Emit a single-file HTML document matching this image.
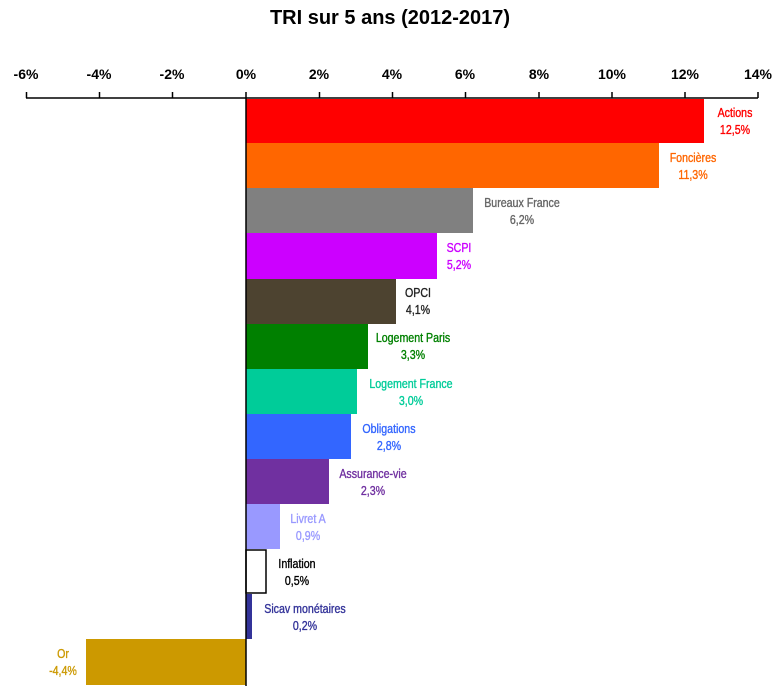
<!DOCTYPE html>
<html><head><meta charset="utf-8"><style>
body{margin:0;background:#fff;}
svg text{font-family:"Liberation Sans",sans-serif;}
</style></head><body>
<svg width="781" height="695" viewBox="0 0 781 695" xmlns="http://www.w3.org/2000/svg">
<text x="390" y="24" text-anchor="middle" font-size="20" font-weight="bold">TRI sur 5 ans (2012-2017)</text>
<g font-size="14" font-weight="bold" text-anchor="middle">
<text x="26" y="79">-6%</text><text x="99" y="79">-4%</text><text x="172" y="79">-2%</text><text x="246" y="79">0%</text><text x="319" y="79">2%</text><text x="392" y="79">4%</text><text x="465" y="79">6%</text><text x="539" y="79">8%</text><text x="612" y="79">10%</text><text x="685" y="79">12%</text><text x="758" y="79">14%</text>
</g>
<g stroke="#000" stroke-width="1.5">
<line x1="26" y1="98" x2="758" y2="98"/>
<line x1="26.5" y1="92" x2="26.5" y2="98"/><line x1="99.5" y1="92" x2="99.5" y2="98"/><line x1="172.5" y1="92" x2="172.5" y2="98"/><line x1="246" y1="92" x2="246" y2="98"/><line x1="319.5" y1="92" x2="319.5" y2="98"/><line x1="392.5" y1="92" x2="392.5" y2="98"/><line x1="465.5" y1="92" x2="465.5" y2="98"/><line x1="539" y1="92" x2="539" y2="98"/><line x1="612" y1="92" x2="612" y2="98"/><line x1="685" y1="92" x2="685" y2="98"/><line x1="758" y1="92" x2="758" y2="98"/>
</g>
<rect x="246" y="99" width="458" height="44" fill="#ff0000"/>
<rect x="246" y="143" width="413" height="45" fill="#ff6600"/>
<rect x="246" y="188" width="227" height="45" fill="#808080"/>
<rect x="246" y="233" width="191" height="46" fill="#cc00ff"/>
<rect x="246" y="279" width="150" height="45" fill="#4d4330"/>
<rect x="246" y="324" width="122" height="45" fill="#008000"/>
<rect x="246" y="369" width="111" height="45" fill="#00cc99"/>
<rect x="246" y="414" width="105" height="45" fill="#3366ff"/>
<rect x="246" y="459" width="83" height="45" fill="#7030a0"/>
<rect x="246" y="504" width="34" height="45" fill="#9999ff"/>
<rect x="246" y="550" width="20" height="43" fill="#fff" stroke="#000" stroke-width="1.5"/>
<rect x="246" y="594" width="6" height="45" fill="#333399"/>
<rect x="86" y="639" width="160" height="46" fill="#cc9900"/>
<line x1="246" y1="98" x2="246" y2="686" stroke="#000" stroke-width="1.5"/>
<g font-size="12.5" text-anchor="middle" transform="scale(0.85 1)" stroke-width="0.35">
<g fill="#ff0000" stroke="#ff0000"><text x="864.7" y="117">Actions</text><text x="864.7" y="134">12,5%</text></g>
<g fill="#ff6600" stroke="#ff6600"><text x="815.3" y="162">Foncières</text><text x="815.3" y="179">11,3%</text></g>
<g fill="#666" stroke="#666"><text x="614.1" y="207">Bureaux France</text><text x="614.1" y="224">6,2%</text></g>
<g fill="#cc00ff" stroke="#cc00ff"><text x="540" y="252">SCPI</text><text x="540" y="269">5,2%</text></g>
<g fill="#222" stroke="#222"><text x="491.8" y="297">OPCI</text><text x="491.8" y="314">4,1%</text></g>
<g fill="#008000" stroke="#008000"><text x="485.9" y="342">Logement Paris</text><text x="485.9" y="359">3,3%</text></g>
<g fill="#00cc99" stroke="#00cc99"><text x="483.5" y="388">Logement France</text><text x="483.5" y="405">3,0%</text></g>
<g fill="#3366ff" stroke="#3366ff"><text x="457.6" y="433">Obligations</text><text x="457.6" y="450">2,8%</text></g>
<g fill="#7030a0" stroke="#7030a0"><text x="438.8" y="478">Assurance-vie</text><text x="438.8" y="495">2,3%</text></g>
<g fill="#9999ff" stroke="#9999ff"><text x="362.4" y="523">Livret A</text><text x="362.4" y="540">0,9%</text></g>
<g fill="#000" stroke="#000"><text x="349.4" y="568">Inflation</text><text x="349.4" y="585">0,5%</text></g>
<g fill="#333399" stroke="#333399"><text x="358.8" y="613">Sicav monétaires</text><text x="358.8" y="630">0,2%</text></g>
<g fill="#cc9900" stroke="#cc9900"><text x="74.1" y="658">Or</text><text x="74.1" y="675">-4,4%</text></g>
</g>
</svg>
</body></html>
